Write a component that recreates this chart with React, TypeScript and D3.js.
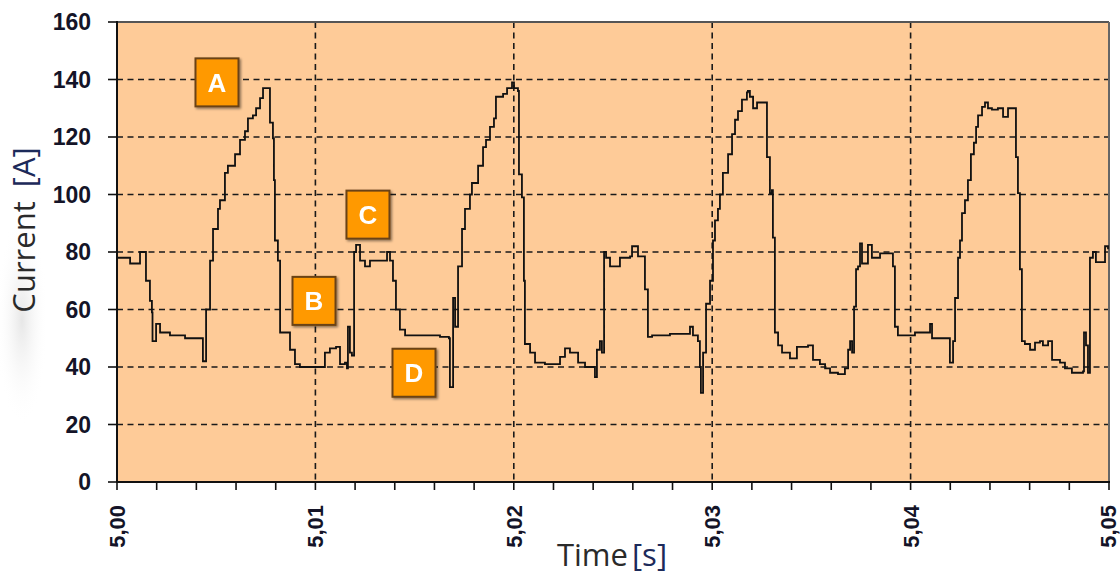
import React from "react";
import * as d3 from "d3";

// time offset from 5,00 s in milliseconds, and the measured current [A]
const timeMs = [
  0.0, 0.66, 1.16, 1.31, 1.46, 1.66, 1.76, 1.79, 1.97, 2.17, 2.67, 3.43, 4.28, 4.33, 4.49, 4.59,
  4.69, 4.84, 5.09, 5.19, 5.44, 5.59, 5.95, 6.2, 6.45, 6.6, 6.85, 7.01, 7.21, 7.36, 7.61, 7.71,
  7.86, 7.91, 7.96, 8.11, 8.22, 8.72, 8.97, 9.22, 10.03, 10.48, 10.73, 11.04, 11.24, 11.49, 11.59,
  11.64, 11.74, 11.84, 11.95, 12.05, 12.25, 12.5, 12.75, 13.41, 13.61, 13.76, 13.91, 14.06, 14.26,
  14.52, 15.27, 16.28, 16.73, 16.78, 16.94, 17.04, 17.19, 17.39, 17.54, 17.79, 17.89, 18.2, 18.45,
  18.6, 18.8, 19.0, 19.1, 19.46, 19.66, 19.91, 20.01, 20.21, 20.26, 20.41, 20.51, 20.56, 20.82,
  21.07, 21.57, 22.33, 22.58, 22.83, 23.24, 23.59, 24.09, 24.19, 24.34, 24.44, 24.55, 24.65, 24.85,
  25.35, 25.86, 25.96, 26.26, 26.61, 26.76, 26.97, 27.87, 28.88, 29.03, 29.28, 29.38, 29.43, 29.54,
  29.69, 29.89, 30.04, 30.14, 30.29, 30.39, 30.54, 30.8, 31.0, 31.15, 31.3, 31.5, 31.75, 31.8,
  31.9, 32.06, 32.26, 32.71, 32.76, 32.91, 33.01, 33.06, 33.16, 33.32, 33.52, 33.92, 34.27, 34.83,
  35.08, 35.43, 35.69, 35.94, 36.34, 36.69, 36.85, 36.95, 37.05, 37.15, 37.25, 37.35, 37.45, 37.55,
  37.85, 38.05, 38.46, 38.96, 39.11, 39.21, 39.36, 39.72, 40.22, 40.93, 40.98, 41.08, 41.88, 41.98,
  42.14, 42.24, 42.39, 42.49, 42.59, 42.74, 42.89, 43.04, 43.19, 43.3, 43.4, 43.6, 43.75, 43.9,
  44.1, 44.4, 44.66, 44.91, 45.26, 45.31, 45.41, 45.51, 45.61, 45.76, 46.02, 46.27, 46.52, 46.67,
  46.93, 47.13, 47.53, 47.78, 48.13, 48.69, 48.74, 48.84, 48.94, 49.04, 49.19, 49.34, 49.7, 49.8,
  49.95,
];

const current = [
  78, 76, 80, 80, 70, 63, 59, 49, 55, 52, 51, 50, 50, 42, 60, 60,
  77, 88, 95, 98, 107.5, 110, 114, 119, 122, 126.5, 127.5, 130, 133.5, 137, 137, 125,
  119.5, 105, 84, 77, 52, 46, 41, 40, 40, 45, 46.5, 47, 41, 41.5, 39.5,
  54, 45, 44, 80, 82.5, 77, 75, 77, 77, 80, 77, 70, 60, 53,
  51, 51, 50.5, 50, 33, 64, 54, 75, 88, 95, 100, 104, 110, 116.5,
  119, 123.5, 126.5, 134, 135, 137, 139, 137, 136, 107, 99, 70, 48, 45,
  41.5, 41, 43.5, 46.5, 45, 41.5, 40, 36.5, 46, 49, 45, 80, 78, 75,
  78, 78.5, 82, 78.5, 67, 50.5, 51, 51.5, 54, 51, 49, 40, 31, 45,
  62, 70, 84, 91, 95, 100, 107.5, 114, 121, 126, 129, 133, 135.5, 136,
  134, 130, 132, 132, 113, 100.5, 101.5, 85, 52, 47.5, 45, 43, 47, 47.5,
  42.5, 41, 39.5, 38, 37.5, 39.5, 46, 49, 45, 61, 74, 75, 83, 76,
  82.5, 78, 79.5, 79.5, 75, 54, 51, 51, 52, 52, 55, 50, 50, 41.5,
  49, 64, 78, 84, 93.5, 98, 105, 114, 118, 123.5, 127.5, 130.5, 132, 130,
  129.5, 130, 127, 130, 130, 113, 100.5, 74, 49, 48, 46, 48.5, 49, 47.5,
  49, 42.5, 41.5, 39.5, 38, 38.5, 52, 47.5, 38, 78, 80, 76.5, 76.5, 82,
  81,
];

const yTicks = [0, 20, 40, 60, 80, 100, 120, 140, 160];
const xTicks = [5.0, 5.01, 5.02, 5.03, 5.04, 5.05];
const xMinorTicks = d3.range(0, 26).map((i) => 5 + i * 0.002);

// annotation boxes
const markLabels = ["A", "B", "C", "D"];
const markTimeMs = [5.04, 9.93, 12.65, 14.97];
const markCurrent = [139, 63, 93, 38];

const W = 1120;
const H = 574;
const margin = { left: 117, right: 11, top: 22, bottom: 92 };

export default function App() {
  const x = d3.scaleLinear().domain([5.0, 5.05]).range([margin.left, W - margin.right]);
  const y = d3.scaleLinear().domain([0, 160]).range([H - margin.bottom, margin.top]);

  const pts = timeMs.map((t, i) => [5 + t / 1000, current[i]] as [number, number]);
  // sampled signal -> staircase look
  const line = d3
    .line<[number, number]>()
    .x((d) => x(d[0]))
    .y((d) => y(d[1]))
    .curve(d3.curveStepAfter);

  const x0 = x(5.0);
  const x1 = x(5.05);
  const y0 = y(0);
  const y1 = y(160);
  const fmt = (v: number) => d3.format(".2f")(v).replace(".", ",");

  return (
    <div style={{ position: "absolute", left: 0, top: 0 }}>
      <svg width={W} height={H} style={{ display: "block", background: "#fff" }}>
        <defs>
          <filter id="shadow" x="-30%" y="-30%" width="160%" height="160%">
            <feDropShadow dx="1.5" dy="1.5" stdDeviation="1.2" floodColor="#000" floodOpacity="0.45" />
          </filter>
          <radialGradient id="haze">
            <stop offset="0%" stopColor="#e4e4e4" stopOpacity="0.9" />
            <stop offset="100%" stopColor="#ffffff" stopOpacity="0" />
          </radialGradient>
        </defs>

        {/* faint grey haze behind the axis title */}
        <ellipse cx={22} cy={320} rx={26} ry={105} fill="url(#haze)" />

        {/* plot background */}
        <rect x={x0} y={y1} width={x1 - x0} height={y0 - y1} fill="#FECB98" />

        {/* grid */}
        <g stroke="#1a1a1a" strokeWidth={1.6} strokeDasharray="6 4.5" fill="none">
          {yTicks
            .filter((v) => v > 0 && v < 160)
            .map((v) => (
              <line key={"gy" + v} x1={x0} x2={x1} y1={y(v)} y2={y(v)} />
            ))}
          {xTicks
            .filter((v) => v > 5.0 && v < 5.05)
            .map((v) => (
              <line key={"gx" + v} x1={x(v)} x2={x(v)} y1={y1} y2={y0} />
            ))}
        </g>

        {/* frame */}
        <line x1={x0} x2={x1} y1={y1} y2={y1} stroke="#555" strokeWidth={2} />
        <line x1={x1} x2={x1} y1={y1} y2={y0} stroke="#666" strokeWidth={2} />
        <line x1={x0} x2={x0} y1={y1 - 1} y2={y0 + 1} stroke="#111" strokeWidth={2} />
        <line x1={x0 - 1} x2={x1 + 1} y1={y0} y2={y0} stroke="#111" strokeWidth={2} />

        {/* y ticks and labels */}
        <g>
          {yTicks.map((v) => (
            <g key={"yt" + v}>
              <line x1={x0 - 9} x2={x0} y1={y(v)} y2={y(v)} stroke="#111" strokeWidth={1.6} />
              <text
                x={91}
                y={y(v)}
                dy="0.36em"
                textAnchor="end"
                fontFamily="Liberation Sans, Arial, sans-serif"
                fontWeight="bold"
                fontSize={23}
                fill="#141428"
              >
                {v}
              </text>
            </g>
          ))}
        </g>

        {/* x ticks and labels */}
        <g>
          {xMinorTicks.map((v, i) => (
            <line key={"xm" + i} x1={x(v)} x2={x(v)} y1={y0} y2={y0 + 8} stroke="#111" strokeWidth={1.6} />
          ))}
          {xTicks.map((v) => (
            <text
              key={"xl" + v}
              transform={`translate(${Math.min(x(v), 1108)},505) rotate(-90)`}
              dy="0.36em"
              textAnchor="end"
              fontFamily="Liberation Sans, Arial, sans-serif"
              fontWeight="bold"
              fontSize={22}
              fill="#141428"
            >
              {fmt(v)}
            </text>
          ))}
        </g>

        {/* current trace */}
        <path d={line(pts) || ""} fill="none" stroke="#111" strokeWidth={1.8} strokeLinejoin="miter" />

        {/* annotation boxes */}
        {markLabels.map((lab, i) => {
          const cx = x(5 + markTimeMs[i] / 1000);
          const cy = y(markCurrent[i]);
          return (
            <g key={lab} filter="url(#shadow)">
              <rect x={cx - 21.5} y={cy - 24} width={43} height={48} fill="#FF9900" stroke="#6b4213" strokeWidth={2} />
              <text
                x={cx}
                y={cy}
                dy="0.36em"
                textAnchor="middle"
                fontFamily="Liberation Sans, Arial, sans-serif"
                fontWeight="bold"
                fontSize={26}
                fill="#fff"
              >
                {lab}
              </text>
            </g>
          );
        })}

        {/* axis titles */}
        <text
          transform="translate(35,230) rotate(-90)"
          textAnchor="middle"
          fontFamily="Open Sans, sans-serif"
          fontSize={31}
          fill="#2a2a2a"
        >
          Current
          <tspan dx={14} fill="#1c2a5a">[A]</tspan>
        </text>
        <text
          x={612}
          y={566}
          textAnchor="middle"
          fontFamily="Open Sans, sans-serif"
          fontSize={31}
          fill="#2a2a2a"
        >
          Time
          <tspan dx={4} fill="#1c2a5a">[s]</tspan>
        </text>
      </svg>
    </div>
  );
}
